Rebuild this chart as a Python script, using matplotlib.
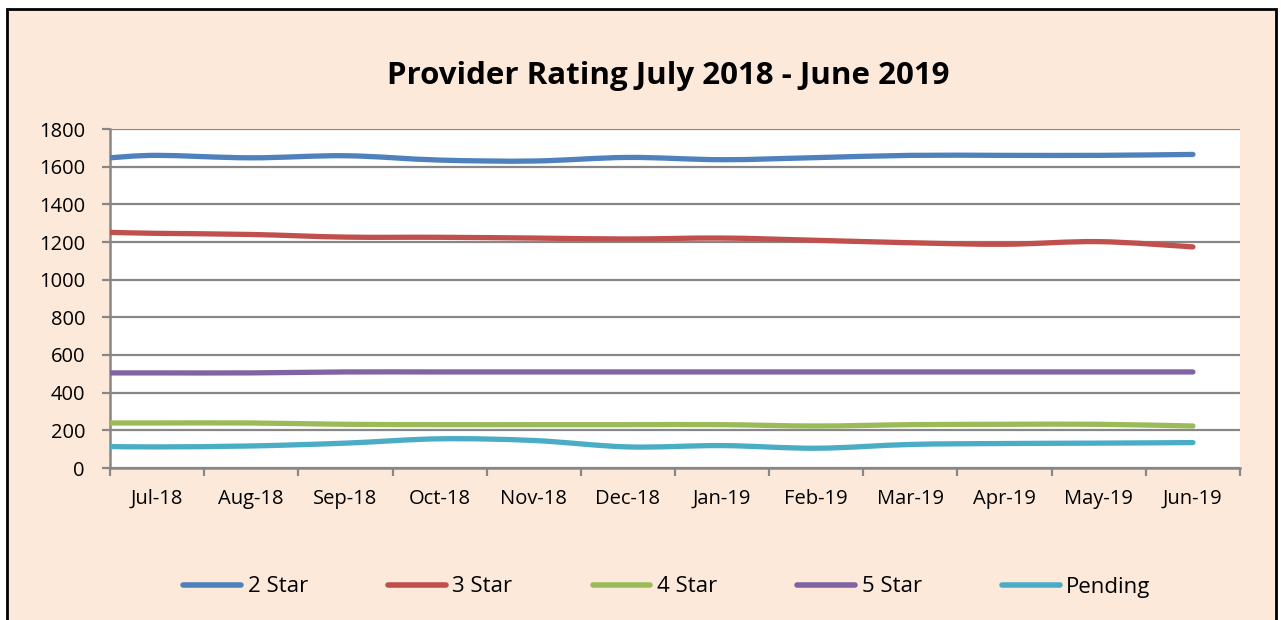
import matplotlib
matplotlib.use("Agg")
import matplotlib.pyplot as plt
import numpy as np
from matplotlib.path import Path
from matplotlib.patches import PathPatch, Rectangle
from matplotlib.lines import Line2D

plt.rcParams['font.family'] = ['Open Sans', 'DejaVu Sans']

months = ['Jul-18', 'Aug-18', 'Sep-18', 'Oct-18', 'Nov-18', 'Dec-18',
          'Jan-19', 'Feb-19', 'Mar-19', 'Apr-19', 'May-19', 'Jun-19']

# first value is where each line meets the y axis, then one value per month
star2 = [1647, 1660, 1647, 1658, 1635, 1630, 1649, 1637, 1648, 1660, 1660, 1660, 1665]
star3 = [1251, 1246, 1240, 1226, 1225, 1221, 1216, 1221, 1209, 1196, 1188, 1202, 1174]
star4 = [239, 239, 239, 232, 230, 230, 230, 230, 223, 230, 232, 232, 223]
star5 = [505, 505, 505, 510, 510, 510, 510, 510, 510, 510, 510, 510, 510]
pending = [114, 112, 117, 132, 155, 146, 112, 119, 105, 125, 130, 132, 135]

series = [('2 Star', star2, '#4F81BD'),
          ('3 Star', star3, '#C0504D'),
          ('4 Star', star4, '#9BBB59'),
          ('5 Star', star5, '#8064A2'),
          ('Pending', pending, '#4BACC6')]

peach = '#FDE9D9'
grid_col = '#878787'

xs = np.concatenate([[0.0], np.arange(len(months)) + 0.5])


def smooth_path(x, y):
    # excel style smoothed line: cubic bezier through every point
    p = np.column_stack([x, y]).astype(float)
    n = len(p)
    verts = [p[0]]
    codes = [Path.MOVETO]
    for i in range(n - 1):
        p0 = p[i - 1] if i > 0 else p[i]
        p1 = p[i]
        p2 = p[i + 1]
        p3 = p[i + 2] if i + 2 < n else p[i + 1]
        c1 = p1 + (p2 - p0) / 6.0
        c2 = p2 - (p3 - p1) / 6.0
        verts += [c1, c2, p2]
        codes += [Path.CURVE4] * 3
    return Path(verts, codes)


fig = plt.figure(figsize=(12.81, 6.2), dpi=100)
fig.patch.set_facecolor('white')
fig.patches.append(Rectangle((7 / 1281, -0.05), 1269 / 1281, 1 - 9 / 620 + 0.05,
                             transform=fig.transFigure, facecolor=peach,
                             edgecolor='black', linewidth=2, zorder=-10))

ax = fig.add_axes([110 / 1281, (620 - 468) / 620, 1130 / 1281, 339 / 620])
ax.set_facecolor('white')

for name, vals, col in series:
    patch = PathPatch(smooth_path(xs, vals), fill=False, edgecolor=col,
                      linewidth=3.8, capstyle='round', joinstyle='round', zorder=3)
    ax.add_patch(patch)

ax.set_xlim(0, 12)
ax.set_ylim(0, 1800)
ax.set_yticks(np.arange(0, 1801, 200))
ax.yaxis.grid(True, color=grid_col, linewidth=1.6)
ax.set_axisbelow(True)

ax.set_xticks(np.arange(0, 13))
ax.set_xticklabels([])
ax.set_xticks(np.arange(len(months)) + 0.5, minor=True)
ax.set_xticklabels(months, minor=True)
ax.tick_params(axis='x', which='major', length=6, width=1.6, color=grid_col)
ax.tick_params(axis='x', which='minor', length=0, pad=15, labelsize=14.5)
ax.tick_params(axis='y', length=6, width=1.6, color=grid_col, pad=12, labelsize=14.5)

for s in ['top', 'right']:
    ax.spines[s].set_visible(False)
for s in ['left', 'bottom']:
    ax.spines[s].set_color(grid_col)
    ax.spines[s].set_linewidth(1.8)

fig.text(668 / 1281, 1 - 76 / 620, 'Provider Rating July 2018 - June 2019',
         ha='center', va='center', fontsize=22.5, fontweight='bold')

handles = [Line2D([], [], color=col, linewidth=4, solid_capstyle='round')
           for _, _, col in series]
fig.legend(handles, [s[0] for s in series], loc='center',
           bbox_to_anchor=(667 / 1281, 1 - 587 / 620), ncol=5, frameon=False,
           fontsize=16, handlelength=2.6, handletextpad=0.3, columnspacing=3.6)

fig.savefig('out.png', dpi=100, facecolor=fig.get_facecolor())
